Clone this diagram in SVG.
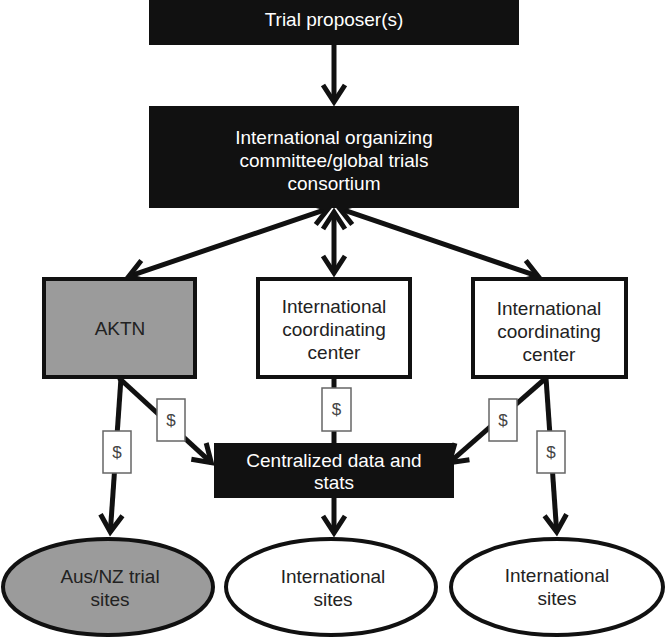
<svg xmlns="http://www.w3.org/2000/svg" width="667" height="638" viewBox="0 0 667 638">
<defs>
<style>
.dark{fill:#111;stroke:#111;stroke-width:2}
.box{fill:#fff;stroke:#111;stroke-width:4}
.gray{fill:#9b9b9b;stroke:#111;stroke-width:4}
.ell{fill:#fff;stroke:#111;stroke-width:4}
.ellg{fill:#9b9b9b;stroke:#111;stroke-width:4}
.t{font-family:"Liberation Sans",Arial,sans-serif;font-size:19px;text-anchor:middle}
.tw{fill:#fff}
.tb{fill:#222}
.edge{stroke:#111;stroke-width:5;fill:none;marker-end:url(#ah)}
.bi{marker-start:url(#ah)}
.plain{stroke:#111;stroke-width:5;fill:none}
.money{fill:#fff;stroke:#666;stroke-width:1.5}
.mt{font-family:"Liberation Sans",Arial,sans-serif;font-size:17px;text-anchor:middle;fill:#444}
</style>
<marker id="ah" markerUnits="userSpaceOnUse" viewBox="-30 -20 40 40" refX="0" refY="0" markerWidth="40" markerHeight="40" orient="auto-start-reverse" overflow="visible">
<path d="M-17,-11 L0,0 L-17,11" fill="none" stroke="#111" stroke-width="5"/>
</marker>
</defs>

<g id="connectors">
<line class="edge" x1="334" y1="44" x2="334" y2="102"/>
<line class="edge bi" x1="328.3" y1="208.6" x2="128.7" y2="276.4"/>
<line class="edge bi" x1="334" y1="212" x2="334" y2="273"/>
<line class="edge bi" x1="339.7" y1="208.6" x2="538.3" y2="276.4"/>
<line class="edge" x1="121" y1="378" x2="110.3" y2="532"/>
<line class="edge" x1="119" y1="378" x2="211.3" y2="462.6"/>
<line class="plain" x1="334" y1="377" x2="334" y2="444"/>
<line class="edge" x1="546" y1="378" x2="449.4" y2="462.6"/>
<line class="edge" x1="546" y1="378" x2="556.7" y2="532"/>
<line class="edge" x1="334" y1="497" x2="334" y2="533"/>
<g id="money-labels">
<rect class="money" x="103" y="431" width="28" height="42"/>
<text class="mt" x="117" y="458">$</text>
<rect class="money" x="157" y="399" width="28" height="42"/>
<text class="mt" x="171" y="426">$</text>
<rect class="money" x="322" y="388" width="29" height="43"/>
<text class="mt" x="336.5" y="415">$</text>
<rect class="money" x="489" y="399" width="28" height="42"/>
<text class="mt" x="503" y="426">$</text>
<rect class="money" x="537" y="431" width="28" height="42"/>
<text class="mt" x="551" y="458">$</text>
</g>
</g>

<g id="trial-proposers">
<rect class="dark" x="150" y="-5" width="368" height="49"/>
<text class="t tw" x="334" y="26">Trial proposer(s)</text>
</g>

<g id="committee">
<rect class="dark" x="150" y="107" width="368" height="100"/>
<text class="t tw" x="334" y="144">International organizing</text>
<text class="t tw" x="334" y="167">committee/global trials</text>
<text class="t tw" x="334" y="190">consortium</text>
</g>

<g id="aktn">
<rect class="gray" x="44" y="279" width="151" height="98"/>
<text class="t tb" x="120" y="335">AKTN</text>
</g>

<g id="icc-middle">
<rect class="box" x="258" y="279" width="152" height="98"/>
<text class="t tb" x="334" y="313">International</text>
<text class="t tb" x="334" y="336">coordinating</text>
<text class="t tb" x="334" y="359">center</text>
</g>

<g id="icc-right">
<rect class="box" x="473" y="279" width="153" height="98"/>
<text class="t tb" x="549" y="315">International</text>
<text class="t tb" x="549" y="338">coordinating</text>
<text class="t tb" x="549" y="361">center</text>
</g>

<g id="centralized">
<rect class="dark" x="215" y="444" width="238" height="53"/>
<text class="t tw" x="334" y="467">Centralized data and</text>
<text class="t tw" x="334" y="489">stats</text>
</g>

<g id="ausnz-sites">
<ellipse class="ellg" cx="108" cy="587" rx="105" ry="48"/>
<text class="t tb" x="110" y="583">Aus/NZ trial</text>
<text class="t tb" x="110" y="606">sites</text>
</g>

<g id="intl-sites-middle">
<ellipse class="ell" cx="331" cy="587" rx="105" ry="48"/>
<text class="t tb" x="333" y="583">International</text>
<text class="t tb" x="333" y="606">sites</text>
</g>

<g id="intl-sites-right">
<ellipse class="ell" cx="557" cy="587" rx="106" ry="48"/>
<text class="t tb" x="557" y="582">International</text>
<text class="t tb" x="557" y="605">sites</text>
</g>
</svg>
